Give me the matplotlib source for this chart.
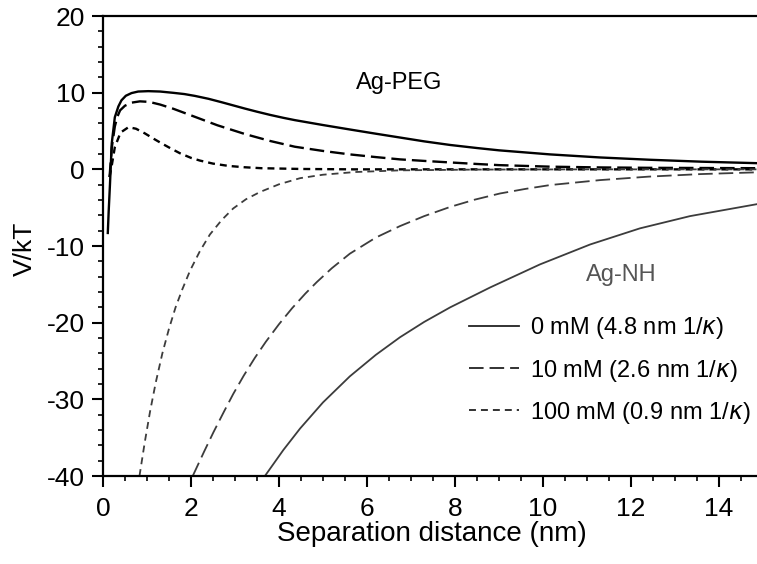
import numpy as np
import matplotlib
matplotlib.use('Agg')
import matplotlib.pyplot as plt
from matplotlib.lines import Line2D
from matplotlib.ticker import MultipleLocator

plt.rcParams['font.family'] = ['Liberation Sans', 'DejaVu Sans']
plt.rcParams['mathtext.fontset'] = 'dejavusans'
plt.rcParams['axes.unicode_minus'] = False
plt.rcParams['lines.scale_dashes'] = False

# Ag-PEG interaction energy (V/kT) vs separation (nm)
peg_0_x = [0.11, 0.13, 0.16, 0.2, 0.27, 0.35, 0.42, 0.52, 0.65, 0.8, 1.03, 1.3, 1.6, 1.85, 2.09, 2.4, 2.7, 3.0, 3.23, 3.5, 3.8, 4.1, 4.36, 4.7, 5.0, 5.61, 6.2, 6.75, 7.3, 7.89, 8.5, 9.0, 10.16, 11.3, 12.43, 13.6, 14.9]
peg_0_y = [-8.3, -5.5, -1.9, 3.4, 6.8, 8.2, 9.0, 9.6, 9.95, 10.15, 10.2, 10.15, 9.98, 9.82, 9.58, 9.2, 8.75, 8.28, 7.92, 7.52, 7.1, 6.72, 6.42, 6.08, 5.78, 5.2, 4.65, 4.15, 3.65, 3.18, 2.78, 2.48, 1.95, 1.55, 1.25, 1.0, 0.8]

peg_10_x = [0.15, 0.2, 0.27, 0.33, 0.39, 0.5, 0.65, 0.84, 1.05, 1.3, 1.6, 2.09, 2.6, 3.23, 3.8, 4.36, 5.0, 5.61, 6.2, 6.75, 7.3, 7.89, 8.5, 9.0, 10.16, 11.3, 12.4, 14.9]
peg_10_y = [-1.0, 2.8, 5.6, 6.9, 7.7, 8.3, 8.7, 8.87, 8.8, 8.45, 7.9, 6.85, 5.75, 4.6, 3.7, 2.95, 2.4, 1.95, 1.6, 1.3, 1.1, 0.9, 0.7, 0.55, 0.35, 0.25, 0.2, 0.15]

peg_100_x = [0.15, 0.2, 0.27, 0.4, 0.58, 0.75, 0.95, 1.15, 1.33, 1.55, 1.75, 2.0, 2.2, 2.5, 2.85, 3.2, 3.6, 4.5, 5.7, 8.0, 11.0, 14.9]
peg_100_y = [-1.0, 0.5, 2.9, 4.8, 5.5, 5.3, 4.7, 4.0, 3.4, 2.7, 2.1, 1.5, 1.15, 0.75, 0.45, 0.28, 0.15, 0.05, 0.0, 0.0, 0.0, 0.0]

# Ag-NH interaction energy
nh_0_x = [3.68, 4.1, 4.48, 5.0, 5.61, 6.2, 6.75, 7.3, 7.89, 8.8, 9.93, 11.07, 12.2, 13.34, 14.9]
nh_0_y = [-40.0, -36.6, -33.8, -30.4, -27.0, -24.2, -21.9, -19.9, -18.0, -15.4, -12.4, -9.8, -7.7, -6.1, -4.5]

nh_10_x = [2.04, 2.3, 2.51, 2.75, 2.96, 3.2, 3.45, 3.7, 4.0, 4.3, 4.6, 4.86, 5.2, 5.61, 6.2, 6.75, 7.3, 7.89, 8.45, 9.02, 9.6, 10.16, 11.3, 12.4, 13.57, 14.9]
nh_10_y = [-40.0, -36.8, -34.3, -31.6, -29.3, -26.9, -24.6, -22.5, -20.2, -18.1, -16.2, -14.7, -12.9, -11.0, -8.9, -7.4, -6.1, -4.9, -3.95, -3.15, -2.55, -2.05, -1.4, -0.95, -0.62, -0.38]

nh_100_x = [0.83, 0.95, 1.07, 1.2, 1.35, 1.5, 1.65, 1.8, 1.98, 2.2, 2.43, 2.7, 2.96, 3.25, 3.57, 4.0, 4.48, 5.0, 5.73, 6.75, 8.5, 11.0, 14.9]
nh_100_y = [-40.0, -35.6, -31.6, -27.8, -24.0, -20.8, -18.0, -15.7, -13.2, -10.7, -8.5, -6.6, -5.1, -3.9, -2.95, -1.95, -1.15, -0.7, -0.35, -0.13, -0.03, 0.0, 0.0]

labels = ['0 mM (4.8 nm 1/$\\kappa$)', '10 mM (2.6 nm 1/$\\kappa$)', '100 mM (0.9 nm 1/$\\kappa$)']

long_dash = (0, (10.5, 4.3))
short_dash = (0, (5.0, 3.6))

fig = plt.figure(figsize=(7.57, 5.64), dpi=100)
ax = fig.add_axes([0.136, 0.156, 0.872, 0.8156])

ax.plot(peg_0_x, peg_0_y, color='black', lw=1.7, ls='-')
ax.plot(peg_10_x, peg_10_y, color='black', lw=1.7, ls=long_dash)
ax.plot(peg_100_x, peg_100_y, color='black', lw=1.7, ls=short_dash)

nh_col = '#3c3c3c'
ax.plot(nh_0_x, nh_0_y, color=nh_col, lw=1.3, ls='-')
ax.plot(nh_10_x, nh_10_y, color=nh_col, lw=1.3, ls=long_dash)
ax.plot(nh_100_x, nh_100_y, color=nh_col, lw=1.3, ls=short_dash)

ax.text(6.73, 11.2, 'Ag-PEG', fontsize=17, ha='center', va='center')
ax.text(11.78, -13.8, 'Ag-NH', fontsize=17, ha='center', va='center', color='#555555')

ax.set_xlim(0, 15)
ax.set_ylim(-40, 20)
ax.xaxis.set_major_locator(MultipleLocator(2))
ax.xaxis.set_minor_locator(MultipleLocator(0.5))
ax.yaxis.set_major_locator(MultipleLocator(10))
ax.yaxis.set_minor_locator(MultipleLocator(2))
ax.tick_params(which='major', length=8, width=1.5, labelsize=19)
ax.tick_params(which='minor', length=3.8, width=1.2)
ax.tick_params(axis='x', which='major', pad=7)
ax.tick_params(axis='y', which='major', pad=5)
for s in ['left', 'bottom', 'top']:
    ax.spines[s].set_linewidth(1.6)
ax.spines['right'].set_visible(False)

ax.set_xlabel('Separation distance (nm)', fontsize=20)
ax.set_ylabel('V/kT', fontsize=19)
ax.xaxis.set_label_coords(0.498, -0.098)
ax.yaxis.set_label_coords(-0.10, 0.495)

handles = [Line2D([], [], color='#222222', lw=1.3, ls='-'),
           Line2D([], [], color='#222222', lw=1.3, ls=long_dash),
           Line2D([], [], color='#222222', lw=1.3, ls=short_dash)]
ax.legend(handles, labels, loc='upper left', bbox_to_anchor=(0.555, 0.349),
          frameon=False, fontsize=17, handlelength=2.12, handletextpad=0.47,
          labelspacing=0.68, borderpad=0, borderaxespad=0)

fig.savefig('out.png', dpi=100)
